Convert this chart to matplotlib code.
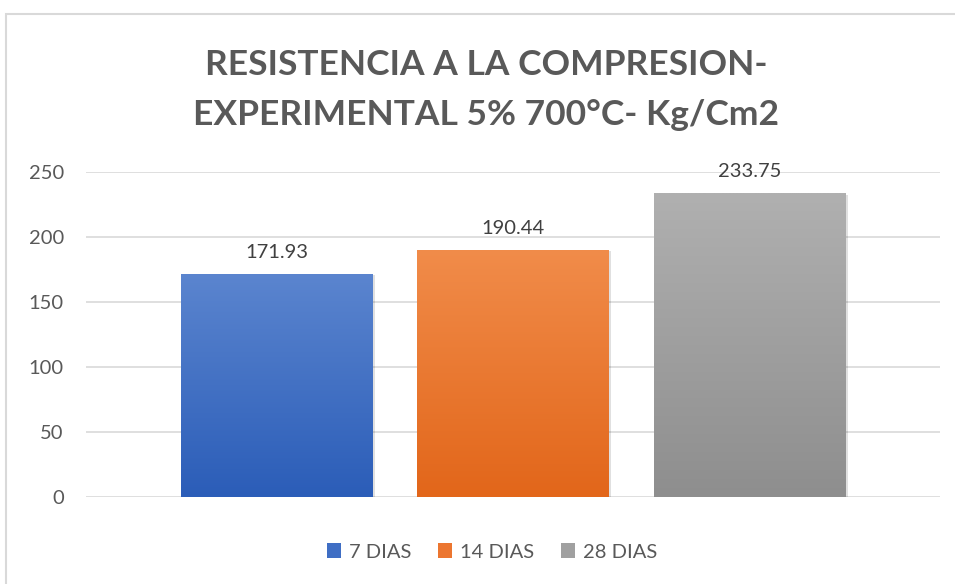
import matplotlib
matplotlib.use("Agg")
import matplotlib.pyplot as plt
import numpy as np
from matplotlib.patches import Rectangle, Patch
from matplotlib.colors import LinearSegmentedColormap

# datos del grafico
series = ["7 DIAS", "14 DIAS", "28 DIAS"]
valores = [171.93, 190.44, 233.75]
etiquetas = ["171.93", "190.44", "233.75"]
ticks_y = [0, 50, 100, 150, 200, 250]
titulo = "RESISTENCIA A LA COMPRESION-\nEXPERIMENTAL 5% 700°C- Kg/Cm2"

# colores (arriba, abajo) del degradado de cada barra
degradados = [("#5B85CF", "#2B5DB8"), ("#F18C4A", "#E2661A"), ("#B0B0B0", "#8E8E8E")]
colores_leyenda = ["#3F6EC4", "#EC7630", "#A0A0A0"]

gris_texto = "#595959"
gris_linea = "#D9D9D9"
fuente = ["Lato", "DejaVu Sans"]

fig = plt.figure(figsize=(9.55, 5.84), dpi=100)

# marco exterior del grafico
fig.patches.append(Rectangle((6 / 955, -0.1), 1.1, 1 - 14 / 584 + 0.1, transform=fig.transFigure,
                             fill=False, edgecolor=gris_linea, linewidth=1.5))

ax = fig.add_axes([86 / 955, 1 - 497.3 / 584, 854 / 955, 325 / 584])

x = np.arange(len(series))
ancho = 0.808
barras = ax.bar(x, valores, ancho, color="none", zorder=3)

for b, (arriba, abajo) in zip(barras, degradados):
    cmap = LinearSegmentedColormap.from_list("g", [abajo, arriba])
    grad = np.linspace(0, 1, 256).reshape(-1, 1)
    x0, y0 = b.get_x(), b.get_y()
    w, h = b.get_width(), b.get_height()
    # sombra suave
    ax.add_patch(Rectangle((x0 + 0.012, y0 - 1.2), w, h, facecolor="#000000", alpha=0.12,
                           edgecolor="none", zorder=2.5))
    im = ax.imshow(grad, cmap=cmap, aspect="auto", origin="lower",
                   extent=(x0, x0 + w, y0, y0 + h), zorder=3)
    im.set_clip_path(b)

ax.set_xlim(-0.806, 2.806)
ax.set_ylim(0, 250)

for xi, v, t in zip(x, valores, etiquetas):
    ax.annotate(t, (xi, v), xytext=(0, 11.5), textcoords="offset points", ha="center", va="baseline",
                fontsize=14.5, color="#404040", family=fuente)

ax.set_yticks(ticks_y)
ax.set_yticklabels([str(t) for t in ticks_y], family=fuente, fontsize=14.5, color=gris_texto)
ax.set_xticks([])
ax.tick_params(axis="y", length=0, pad=16)
ax.grid(axis="y", color=gris_linea, linewidth=1.2, zorder=0)
ax.set_axisbelow(True)
for s in ax.spines.values():
    s.set_visible(False)

fig.text(486 / 955, 1 - 90 / 584, titulo, ha="center", va="center", fontsize=25.5, fontweight="bold",
         color=gris_texto, family=fuente, linespacing=1.7)

manijas = [Patch(facecolor=c, edgecolor="none") for c in colores_leyenda]
fig.legend(manijas, series, loc="center", bbox_to_anchor=(492 / 955, 1 - 552 / 584), ncol=3,
           frameon=False, prop={"family": fuente, "size": 14.5}, labelcolor=gris_texto,
           handlelength=0.72, handleheight=0.72, handletextpad=0.4, columnspacing=1.3)

fig.savefig("out.png", dpi=100)
